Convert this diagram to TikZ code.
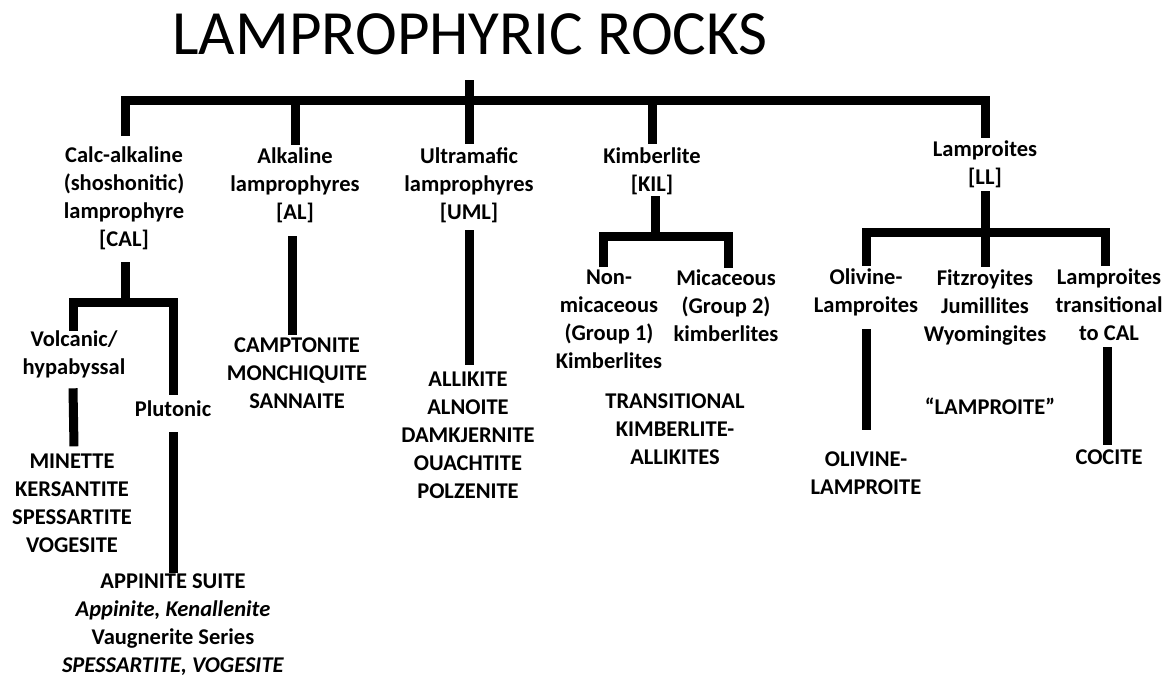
\documentclass[tikz,border=0pt]{standalone}
\usepackage{fontspec}
\setmainfont{Carlito}
\begin{document}
\begin{tikzpicture}[x=1pt,y=-1pt,
  conn/.style={line width=9pt,black},
  lbl/.style={font=\fontsize{22.5}{28}\selectfont\bfseries, align=center, inner sep=0pt,
    execute at begin node=\strut, execute at end node=\strut},
  ttl/.style={inner sep=0pt, anchor=base, font=\fontsize{63}{63}\selectfont}]
\useasboundingbox (0,0) rectangle (1171,678);
% title
\node[ttl] (title) at (470,54) {LAMPROPHYRIC ROCKS};
% level 1
\node[lbl] (cal) at (124,201) {Calc-alkaline\\(shoshonitic)\\lamprophyre\\{}[CAL]};
\node[lbl] (al) at (295,188) {Alkaline\\lamprophyres\\{}[AL]};
\node[lbl] (uml) at (469,188) {Ultramafic\\lamprophyres\\{}[UML]};
\node[lbl] (kil) at (652,174) {Kimberlite\\{}[KIL]};
\node[lbl] (ll) at (985,167) {Lamproites\\{}[LL]};
% CAL branch
\node[lbl] (volc) at (74,357) {Volcanic/\\hypabyssal};
\node[lbl] (plut) at (173,411) {Plutonic};
\node[lbl] (min) at (72,507) {MINETTE\\KERSANTITE\\SPESSARTITE\\VOGESITE};
\node[lbl] (app) at (173,627) {APPINITE SUITE\\\textit{Appinite, Kenallenite}\\Vaugnerite Series\\\textit{SPESSARTITE, VOGESITE}};
% AL, UML
\node[lbl] (camp) at (297,377) {CAMPTONITE\\MONCHIQUITE\\SANNAITE};
\node[lbl] (alli) at (468,439) {ALLIKITE\\ALNOITE\\DAMKJERNITE\\OUACHTITE\\POLZENITE};
% KIL branch
\node[lbl] (nonmic) at (609,323) {Non-\\micaceous\\(Group 1)\\Kimberlites};
\node[lbl] (mic) at (726,310) {Micaceous\\(Group 2)\\kimberlites};
\node[lbl] (trans) at (675,433) {TRANSITIONAL\\KIMBERLITE-\\ALLIKITES};
% LL branch
\node[lbl] (oliv) at (866,295) {Olivine-\\Lamproites};
\node[lbl] (fitz) at (985,310) {Fitzroyites\\Jumillites\\Wyomingites};
\node[lbl] (ltrans) at (1109,309) {Lamproites\\transitional\\to CAL};
\node[lbl] (lamp) at (990,409) {``LAMPROITE''};
\node[lbl] (olam) at (866,477) {OLIVINE-\\LAMPROITE};
\node[lbl] (cocite) at (1109,459) {COCITE};
% junctions
\coordinate (stemtop) at (469,80);
\coordinate (j0) at (469,100);
\coordinate (j1) at (125,302);
\coordinate (j2) at (655,236);
\coordinate (j3) at (985,232);
% top bar
\draw[conn] (stemtop) -- ([yshift=4pt]uml.north);
\draw[conn] ([xshift=1pt,yshift=11pt]cal.north) |- (j0) -| ([yshift=3pt]ll.north);
\draw[conn] (j0 -| al.north) -- ([yshift=3pt]al.north);
\draw[conn] (j0 -| kil.north) -- ([yshift=4pt]kil.north);
% CAL
\draw[conn] ([xshift=1pt,yshift=-7pt]cal.south) -- (j1);
\draw[conn] ([xshift=-1pt]volc.north) |- (j1) -| ([yshift=2pt]plut.north);
\draw[conn] ([xshift=-1pt,yshift=-5pt]volc.south) -- ([yshift=7pt]min.north -| volc.south);
\draw[conn] ([yshift=-7pt]plut.south) -- (app.north);
% AL, UML
\draw[conn] ([xshift=-3pt,yshift=-8pt]al.south) -- ([xshift=-3pt,yshift=2pt]al.south |- camp.north);
\draw[conn] ([yshift=-2pt]uml.south) -- ([yshift=6pt]alli.north -| uml.south);
% KIL
\draw[conn] ([yshift=4pt,xshift=3pt]kil.south) -- (j2);
\draw[conn] ([xshift=-6pt,yshift=2pt]nonmic.north) |- (j2) -| ([xshift=2pt,yshift=2pt]mic.north);
% LL
\draw[conn] ([yshift=2pt]ll.south) -- (j3);
\draw[conn] ([yshift=3pt]oliv.north) |- (j3) -| ([xshift=-4pt,yshift=3pt]ltrans.north);
\draw[conn] (j3) -- ([yshift=3pt]fitz.north);
\draw[conn] ([yshift=-8pt]oliv.south) -- ([yshift=21pt]olam.north);
\draw[conn] ([xshift=-2pt,yshift=2pt]ltrans.south) -- ([xshift=-2pt]cocite.north);
\end{tikzpicture}
\end{document}
